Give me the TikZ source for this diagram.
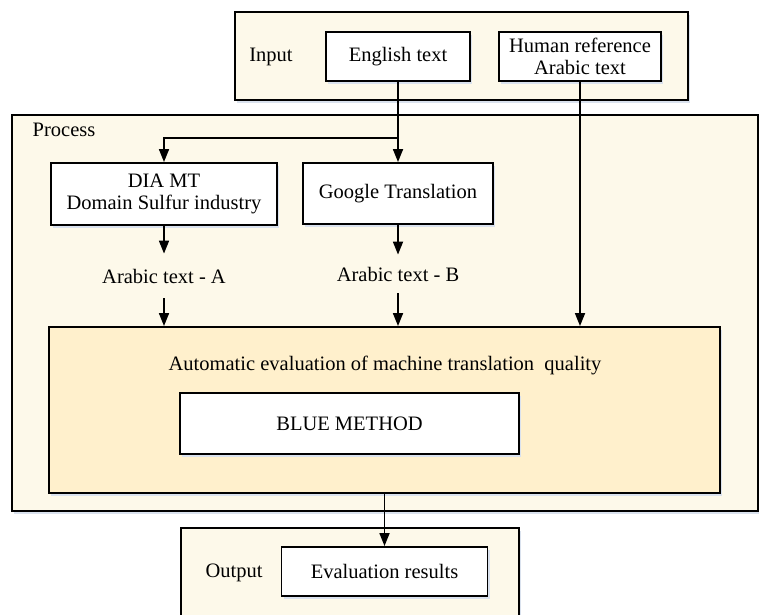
\documentclass[tikz,border=0pt]{standalone}
\usepackage{fontspec}
\setmainfont{Liberation Serif}
\usetikzlibrary{arrows.meta,shadows}
\definecolor{cream}{RGB}{253,249,234}
\definecolor{evalfill}{RGB}{255,240,204}
\definecolor{shadowc}{RGB}{218,226,238}
\begin{document}
\begin{tikzpicture}[x=1pt,y=-1pt,
  every node/.append style={font=\fontsize{20.5pt}{22pt}\selectfont},
  shd/.style={drop shadow={shadow xshift=2pt,shadow yshift=-3pt,fill=shadowc,opacity=1}},
  container/.style={draw=black,line width=1.8pt,fill=cream,shd,inner sep=0pt},
  wbox/.style={draw,line width=1.9pt,fill=white,shd,align=center,inner sep=0pt},
  lbl/.style={inner sep=0pt,align=center},
  arr/.style={line width=1.7pt,-{Triangle[length=13pt,width=10pt]}},
  ln/.style={line width=1.7pt}]
\useasboundingbox (0,0) rectangle (759,614);
% containers
\node[container,minimum width=453pt,minimum height=88pt] (inp) at (461.5,56) {};
\node[container,minimum width=746pt,minimum height=396pt] (proc) at (385,313) {};
\node[container,minimum width=338pt,minimum height=102pt] (outp) at (350,579) {};
% input
\node[lbl] (inlab) at (271,57) {Input};
\node[wbox,minimum width=144pt,minimum height=49pt] (eng) at (398,56.5) {English text};
\node[wbox,minimum width=162pt,minimum height=49pt] (hum) at (580,56.5) {Human reference\\Arabic text};
% process
\node[lbl] (proclab) at (64,130) {Process};
\node[wbox,minimum width=226pt,minimum height=62pt] (dia) at (164,194) {DIA MT\\Domain Sulfur industry};
\node[wbox,minimum width=190pt,minimum height=61pt] (goo) at (398,193.5) {Google Translation};
\node[lbl,inner ysep=15pt] (ara) at (164,276) {Arabic text - A};
\node[lbl,inner ysep=12pt] (arb) at (398,274) {Arabic text - B};
\node[draw,line width=1.9pt,fill=evalfill,shd,minimum width=671pt,minimum height=166pt] (ev) at (384.5,410) {};
\node[lbl] (evt) at (385,365) {Automatic evaluation of machine translation\ \ quality};
\node[wbox,minimum width=339pt,minimum height=61pt] (blue) at (349.5,423.5) {BLUE METHOD};
% output
\node[lbl] (outlab) at (234,573) {Output};
\node[wbox,minimum width=206pt,minimum height=49pt] (res) at (384.5,571.5) {Evaluation results};
% connectors
\coordinate (br) at (398,138);
\draw[ln] (eng.south) -- (br);
\draw[arr] (br) -| (dia.north);
\draw[arr] (br) -- (goo.north);
\draw[arr] (dia.south) -- (ara.north);
\draw[arr] (goo.south) -- (arb.north);
\draw[arr] (ara.south) -- (ara.south |- ev.north);
\draw[arr] (arb.south) -- (arb.south |- ev.north);
\draw[arr] (hum.south) -- (hum.south |- ev.north);
\draw[arr] (ev.south) -- (res.north);
\end{tikzpicture}
\end{document}
